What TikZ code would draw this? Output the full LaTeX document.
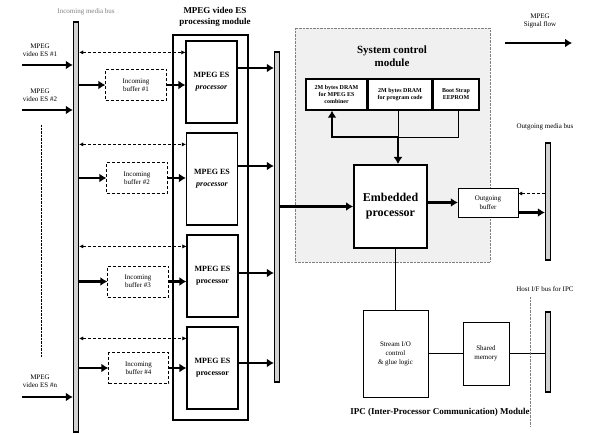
\documentclass[tikz,border=0pt]{standalone}
\usepackage{fontspec}
\setmainfont{Liberation Serif}
\usetikzlibrary{arrows.meta,calc}

\begin{document}
\begin{tikzpicture}[x=1pt, y=-1pt,
  bus/.style={draw, line width=1.4pt, fill=gray!35, minimum width=5pt, inner sep=0pt},
  bufbox/.style={draw, densely dashed, thin, align=center, font=\fontsize{7}{8}\selectfont, inner sep=0pt},
  procbox/.style={draw, line width=1.2pt, align=center, font=\fontsize{8}{12}\selectfont\bfseries, inner sep=0pt, minimum width=51pt},
  membox/.style={draw, line width=1.4pt, fill=white, align=center, font=\fontsize{6}{7}\selectfont\bfseries, inner sep=0pt, minimum height=31pt},
  plainbox/.style={draw, thin, fill=white, align=center, font=\fontsize{7}{9}\selectfont, inner sep=0pt},
  flow/.style={line width=2.8pt, -{Latex[length=7pt,width=9pt]}},
  ctrl/.style={densely dashed, thin, {Latex[length=4pt,width=4pt]}-{Latex[length=4pt,width=4pt]}},
  lbl/.style={align=center, font=\fontsize{7}{8}\selectfont}]
\useasboundingbox (0,0) rectangle (591,435);

% system control area
\fill[gray!12] (295,28) rectangle (490,262);
\draw[densely dotted, gray] (295,28) rectangle (490,262);
\node[align=center, font=\fontsize{11}{13}\selectfont\bfseries] (sysname) at (392,56) {System control\\module};

% buses
\node[bus, minimum height=410pt] (inbus) at (76,227) {};
\node[bus, minimum height=330pt] (modbus) at (277,217) {};
\node[bus, minimum height=117pt] (outbus) at (548,201.5) {};
\node[bus, minimum height=80pt] (hostbus) at (548,352) {};
\node[lbl, text=gray] (inbusname) at (86,12) {Incoming media bus};
\node[lbl] (outbusname) at (545,127) {Outgoing media bus};
\node[lbl] (hostbusname) at (545,289) {Host I/F bus for IPC};

% input streams
\node[lbl] (es1) at (40,50) {MPEG\\video ES \#1};
\node[lbl] (es2) at (40,95) {MPEG\\video ES \#2};
\node[lbl] (esn) at (40,381) {MPEG\\video ES \#n};
\coordinate (in1) at (22,65);
\coordinate (in2) at (22,110);
\coordinate (inn) at (22,397);
\foreach \s in {in1,in2,inn}
  \draw[flow] (\s) -- (\s -| inbus.west);
\draw[densely dotted] (41,125) -- (41,357);

% processing module
\node[align=center, font=\fontsize{9}{11}\selectfont\bfseries] (modname) at (215,17) {MPEG video ES\\processing module};
\draw[line width=2.4pt] (173,35) rectangle (248,420);
\node[procbox, minimum height=82pt] (proc1) at (211.5,82) {MPEG ES\\\textit{processor}};
\node[procbox, minimum height=92pt] (proc2) at (212,179) {MPEG ES\\\textit{processor}};
\node[procbox, minimum height=82pt] (proc3) at (212.5,276) {MPEG ES\\processor};
\node[procbox, minimum height=82pt] (proc4) at (212.5,368) {MPEG ES\\processor};

\node[bufbox, minimum width=61pt, minimum height=31pt] (buf1) at (136,85) {Incoming\\buffer \#1};
\node[bufbox, minimum width=61pt, minimum height=31pt] (buf2) at (137,178) {Incoming\\buffer \#2};
\node[bufbox, minimum width=61pt, minimum height=31pt] (buf3) at (138,281.5) {Incoming\\buffer \#3};
\node[bufbox, minimum width=60pt, minimum height=31pt] (buf4) at (138.5,368) {Incoming\\buffer \#4};

\foreach \i/\dy in {1/14,2/13,3/3,4/5} {
  \draw[flow] (inbus.east |- buf\i) -- (buf\i.west);
  \draw[flow] (buf\i.east) -- (buf\i.east -| proc\i.west);
  \draw[flow] ([yshift=\dy pt]proc\i.east) -- ([yshift=\dy pt]proc\i.east -| modbus.west);
  \draw[ctrl] ([yshift=-12pt]proc\i.north west -| inbus.east) -- ([yshift=-12pt]proc\i.north west);
}

% system control
\node[membox, minimum width=61pt] (mem1) at (336.5,94.5) {2M bytes DRAM\\for MPEG ES\\combiner};
\node[membox, minimum width=64pt] (mem2) at (400,94.5) {2M bytes DRAM\\for program code};
\node[membox, minimum width=46pt] (mem3) at (456,94.5) {Boot Strap\\EEPROM};
\node[draw, line width=2pt, fill=white, align=center, font=\fontsize{12}{15}\selectfont\bfseries,
  minimum width=73pt, minimum height=83pt, inner sep=0pt] (embed) at (390.5,206.5) {Embedded\\processor};
\coordinate (junc) at (398,137);
\draw[line width=2.8pt, {Latex[length=7pt,width=9pt]}-] ([xshift=-4.5pt]mem1.south) |- (junc);
\draw[thin] (mem2.south -| junc) -- (junc);
\draw[thin] ([xshift=2pt]mem3.south) |- (junc);
\draw[flow] (junc) -- (embed.north -| junc);
\draw[flow] (modbus.east |- embed) -- (embed.west);

\node[plainbox, minimum width=60pt, minimum height=29pt] (outbuf) at (488,202.5) {Outgoing\\buffer};
\draw[flow] (embed.east |- outbuf.west) -- (outbuf.west);
\draw[flow] ([yshift=-10pt]outbuf.east) -- ([yshift=-10pt]outbuf.east -| outbus.west);
\draw[densely dashed, thin, -{Latex[length=4pt,width=4pt]}] ([yshift=9pt]outbuf.east -| outbus.west) -- ([yshift=9pt]outbuf.east);

% IPC module
\node[plainbox, minimum width=65pt, minimum height=87pt] (stream) at (395.5,353.5) {Stream I/O\\control\\\& glue logic};
\node[plainbox, minimum width=46pt, minimum height=63pt] (shared) at (486,353.5) {Shared\\memory};
\draw[thin] (stream.north) -- (stream.north |- embed.south);
\draw[thin] (stream) -- (shared);
\draw[thin] (shared) -- (shared -| hostbus.west);
\draw[densely dotted, gray] (530,297) -- (530,427);
\node[font=\fontsize{9}{11}\selectfont\bfseries] (ipcname) at (440,412) {IPC (Inter-Processor Communication) Module};

% legend
\node[lbl] (legname) at (540,21) {MPEG\\Signal flow};
\coordinate (leg1) at (505,43);
\coordinate (leg2) at (572,43);
\draw[flow] (leg1) -- (leg2);
\end{tikzpicture}
\end{document}
